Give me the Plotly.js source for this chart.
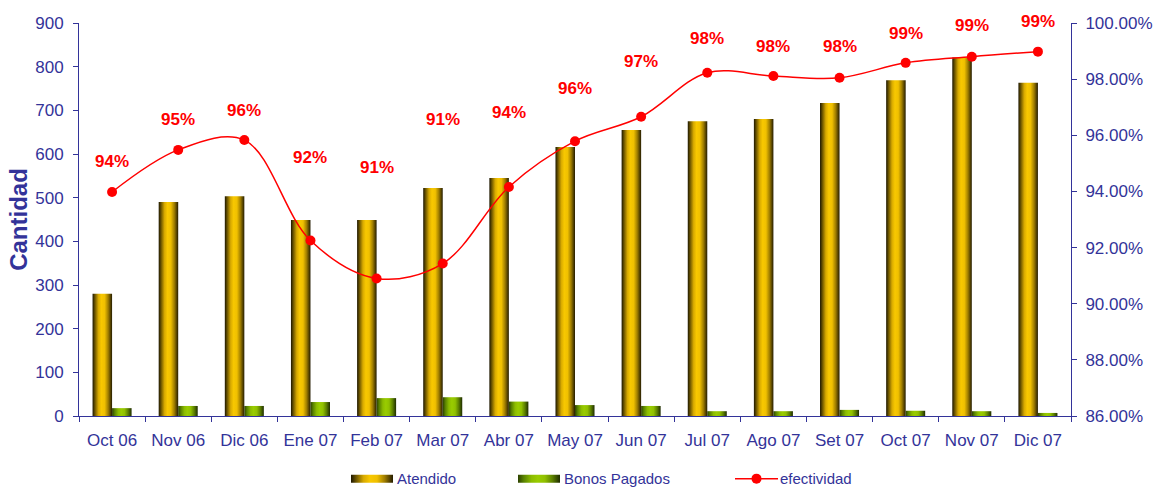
<!DOCTYPE html>
<html>
<head>
<meta charset="utf-8">
<script src="https://cdn.plot.ly/plotly-3.0.1.min.js"></script>
<style>
  html, body { margin: 0; padding: 0; background: #fff; }
  #chart { width: 1159px; height: 488px; }
</style>
</head>
<body>
<div id="chart"></div>
<script>
// ---- data ----
const categories = ["Oct 06", "Nov 06", "Dic 06", "Ene 07", "Feb 07", "Mar 07", "Abr 07", "May 07",
                    "Jun 07", "Jul 07", "Ago 07", "Set 07", "Oct 07", "Nov 07", "Dic 07"];
const atendido = [280, 490, 503, 449, 449, 522, 545, 616, 655, 675, 680, 717, 769, 821, 763];
const bonosPagados = [18, 23, 23, 32, 41, 43, 33, 25, 23, 11, 11, 14, 12, 11, 7];
const efectividad = [0.9398, 0.9548, 0.9583, 0.9225, 0.9090, 0.9143, 0.9416, 0.9579, 0.9666,
                     0.9823, 0.9811, 0.9805, 0.9858, 0.9880, 0.9898];
// vertical offset (px) of each percentage label above its point, as placed in the original
const labelOffsets = [30, 30, 30, 83, 111, 144, 74, 53, 55, 34, 30, 31, 29, 31, 30];

const FONT = "Liberation Sans, Arial, sans-serif";
const AXIS_COLOR = "#333399";

const traces = [
  {
    type: "bar", name: "Atendido", x: categories, y: atendido,
    marker: { color: "#f5c400", line: { width: 0 } }
  },
  {
    type: "bar", name: "Bonos Pagados", x: categories, y: bonosPagados,
    marker: { color: "#99cc00", line: { width: 0 } }
  },
  {
    type: "scatter", mode: "lines+markers", name: "efectividad", x: categories, y: efectividad,
    yaxis: "y2",
    line: { color: "#ff0000", width: 1.5, shape: "spline", smoothing: 1 },
    marker: { color: "#ff0000", size: 10 }
  }
];

const annotations = categories.map((c, i) => ({
  x: c, y: efectividad[i], xref: "x", yref: "y2",
  text: Math.round(efectividad[i] * 100) + "%",
  showarrow: false, yshift: labelOffsets[i],
  font: { family: FONT, size: 17, color: "#ff0000", weight: "bold" }
}));

const layout = {
  width: 1159, height: 488,
  margin: { l: 79, r: 88, t: 23, b: 72, autoexpand: false },
  paper_bgcolor: "#ffffff", plot_bgcolor: "#ffffff",
  font: { family: FONT, color: AXIS_COLOR },
  barmode: "group", bargap: 0.41, bargroupgap: 0,
  showlegend: true,
  legend: {
    orientation: "h", x: 0.27, xanchor: "left", y: -0.16, yanchor: "middle",
    font: { family: FONT, size: 15, color: AXIS_COLOR },
    bgcolor: "rgba(0,0,0,0)"
  },
  xaxis: {
    type: "category", range: [-0.5, categories.length - 0.5],
    tickson: "boundaries", ticks: "outside", ticklen: 5, tickangle: 0,
    tickcolor: AXIS_COLOR, showline: true, linecolor: AXIS_COLOR, linewidth: 1,
    showgrid: false, zeroline: false, ticklabelstandoff: 9, automargin: false,
    tickfont: { family: FONT, size: 17, color: AXIS_COLOR }
  },
  yaxis: {
    range: [0, 900], dtick: 100, ticks: "outside", ticklen: 5, tickcolor: AXIS_COLOR,
    showline: true, linecolor: AXIS_COLOR, linewidth: 1, showgrid: false, zeroline: false,
    ticklabelstandoff: 6, automargin: false,
    tickfont: { family: FONT, size: 17, color: AXIS_COLOR },
    title: { text: "Cantidad", standoff: 0,
             font: { family: FONT, size: 24, color: AXIS_COLOR, weight: "bold" } }
  },
  yaxis2: {
    overlaying: "y", side: "right", range: [0.86, 1.0], dtick: 0.02, tickformat: ".2%",
    ticks: "outside", ticklen: 5, tickcolor: AXIS_COLOR, showline: true, linecolor: AXIS_COLOR,
    linewidth: 1, showgrid: false, zeroline: false, ticklabelstandoff: 5, automargin: false,
    tickfont: { family: FONT, size: 17, color: AXIS_COLOR }
  },
  annotations: annotations
};

function addGradient(svg, id, stops) {
  const ns = "http://www.w3.org/2000/svg";
  let defs = svg.querySelector("defs");
  if (!defs) { defs = document.createElementNS(ns, "defs"); svg.insertBefore(defs, svg.firstChild); }
  const g = document.createElementNS(ns, "linearGradient");
  g.setAttribute("id", id);
  g.setAttribute("x1", "0"); g.setAttribute("y1", "0");
  g.setAttribute("x2", "1"); g.setAttribute("y2", "0");
  stops.forEach(([off, col]) => {
    const s = document.createElementNS(ns, "stop");
    s.setAttribute("offset", off);
    s.setAttribute("stop-color", col);
    g.appendChild(s);
  });
  defs.appendChild(g);
}

const gd = document.getElementById("chart");
Plotly.newPlot(gd, traces, layout, { displayModeBar: false, staticPlot: true }).then(() => {
  const svg = gd.querySelector("svg.main-svg");
  addGradient(svg, "gradAtendido", [
    ["0%", "#1c1600"], ["12%", "#6a5400"], ["30%", "#d8aa00"], ["45%", "#f8c800"],
    ["62%", "#f0c000"], ["80%", "#a07e00"], ["100%", "#241c00"]
  ]);
  addGradient(svg, "gradBonos", [
    ["0%", "#2c4000"], ["14%", "#5a8400"], ["32%", "#8cbc00"], ["47%", "#99cc00"],
    ["64%", "#90c000"], ["82%", "#5c8000"], ["100%", "#1e2c00"]
  ]);
  const ids = ["gradAtendido", "gradBonos"];
  gd.querySelectorAll(".barlayer .trace.bars").forEach((tr, i) => {
    tr.querySelectorAll("path").forEach(p => { p.style.fill = "url(#" + ids[i] + ")"; });
  });
  // legend: wide gradient swatches and spacing like the original
  gd.querySelectorAll(".legend .scrollbox, .legend [clip-path]").forEach(el => el.removeAttribute("clip-path"));
  const desiredLeft = [351, 518, 735];
  const items = gd.querySelectorAll(".legend .traces");
  items.forEach((tr, i) => {
    if (ids[i]) {
      tr.querySelectorAll(".legendpoints path").forEach(p => {
        p.setAttribute("d", "M-26,-4H16V4H-26Z");
        p.style.fill = "url(#" + ids[i] + ")";
        p.style.stroke = "none";
      });
    } else {
      // line + marker swatch: 43px line, marker in the middle, text right after
      tr.querySelectorAll(".legendlines path").forEach(p => p.setAttribute("d", "M0,0h43"));
      const pts = tr.querySelector(".legendpoints");
      if (pts) pts.setAttribute("transform", "translate(1.5,0)");
      const txt = tr.querySelector("text.legendtext");
      if (txt) txt.setAttribute("x", "45");
    }
  });
  items.forEach((tr, i) => {
    const sym = ids[i] ? tr.querySelector(".legendpoints") : (tr.querySelector(".legendlines") || tr);
    const left = sym.getBoundingClientRect().left;
    const shift = desiredLeft[i] - left;
    const m = /translate\(\s*([-\d.]+)[ ,]+([-\d.]+)\s*\)/.exec(tr.getAttribute("transform") || "");
    const tx = m ? parseFloat(m[1]) : 0, ty = m ? parseFloat(m[2]) : 0;
    tr.setAttribute("transform", "translate(" + (tx + shift) + "," + ty + ")");
  });
});
</script>
</body>
</html>
